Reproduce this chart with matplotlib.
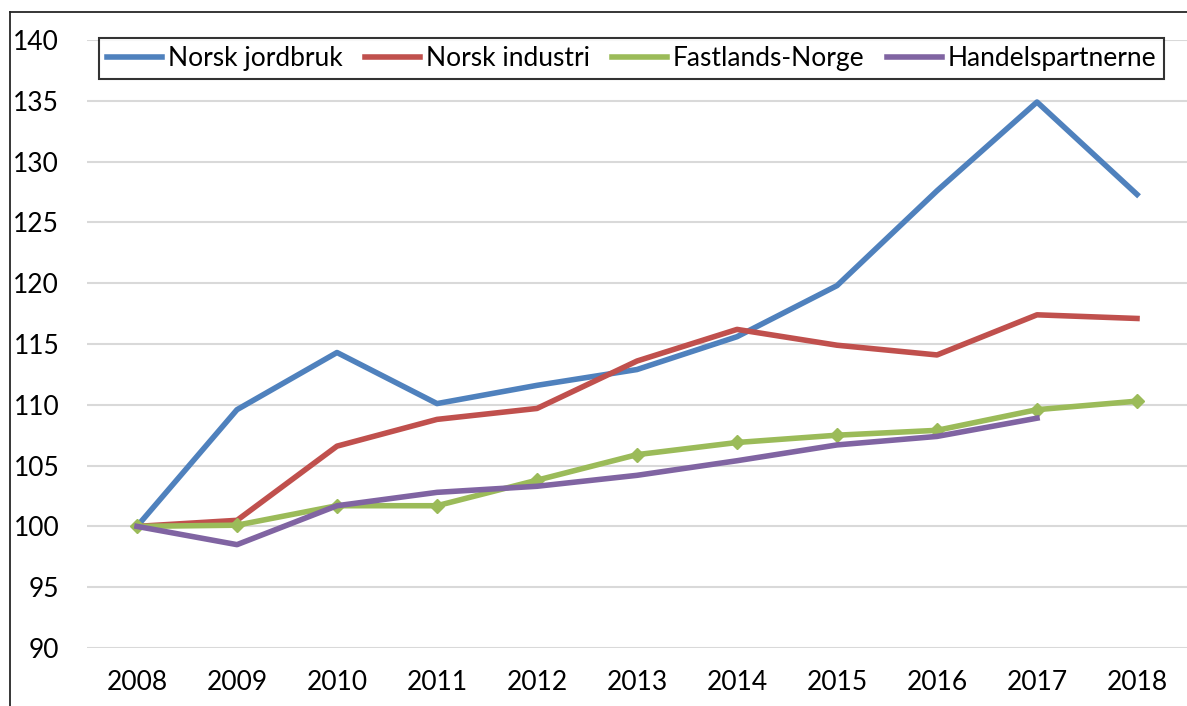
import matplotlib
matplotlib.use("Agg")
import matplotlib.pyplot as plt
from matplotlib.lines import Line2D

years = ["2008", "2009", "2010", "2011", "2012", "2013", "2014", "2015", "2016", "2017", "2018"]
jordbruk = [100, 109.6, 114.3, 110.1, 111.6, 112.9, 115.6, 119.8, 127.6, 134.9, 127.3]
industri = [100, 100.5, 106.6, 108.8, 109.7, 113.6, 116.2, 114.9, 114.1, 117.4, 117.1]
fastland = [100, 100.1, 101.7, 101.7, 103.8, 105.9, 106.9, 107.5, 107.9, 109.6, 110.3]
handel = [100, 98.5, 101.7, 102.8, 103.3, 104.2, 105.4, 106.7, 107.4, 108.9]

plt.rcParams['font.family'] = ['Lato', 'DejaVu Sans']

fig = plt.figure(figsize=(11.87, 7.06), dpi=100)
ax = fig.add_axes([87 / 1187, 1 - 648 / 706, 1 - 87 / 1187, (648 - 40) / 706])

x = list(range(len(years)))
lw = 4
ax.plot(x, jordbruk, color="#4F81BD", lw=lw, label="Norsk jordbruk")
ax.plot(x, industri, color="#C0504D", lw=lw, label="Norsk industri")
ax.plot(x, fastland, color="#9BBB59", lw=lw, marker="D", markersize=7, label="Fastlands-Norge")
ax.plot(x[:len(handel)], handel, color="#8064A2", lw=lw, label="Handelspartnerne")

ax.set_xlim(-0.5, 10.5)
ax.set_ylim(90, 140)
ax.set_yticks(range(90, 141, 5))
ax.set_xticks(x)
ax.set_xticklabels(years)
ax.grid(axis="y", color="#D9D9D9", lw=1.5)
ax.set_axisbelow(True)
for s in ax.spines.values():
    s.set_visible(False)
ax.tick_params(length=0, labelsize=19)
ax.tick_params(axis="y", pad=20)
ax.tick_params(axis="x", pad=16)

handles = [Line2D([], [], color=c, lw=lw) for c in ["#4F81BD", "#C0504D", "#9BBB59", "#8064A2"]]
leg = ax.legend(handles, ["Norsk jordbruk", "Norsk industri", "Fastlands-Norge", "Handelspartnerne"],
                ncol=4, loc="upper center", bbox_to_anchor=(0.495, 1.025), fontsize=19,
                frameon=True, fancybox=False, edgecolor="black", handlelength=2.1,
                columnspacing=0.85, handletextpad=0.2, borderpad=0.3)
leg.get_frame().set_linewidth(1.5)

# outer chart border
fig.add_artist(Line2D([10 / 1187, 10 / 1187], [0, 1 - 12 / 706], color="#262626", lw=1.3))
fig.add_artist(Line2D([10 / 1187, 1], [1 - 12 / 706, 1 - 12 / 706], color="#262626", lw=1.3))

fig.savefig("out.png", dpi=100)
